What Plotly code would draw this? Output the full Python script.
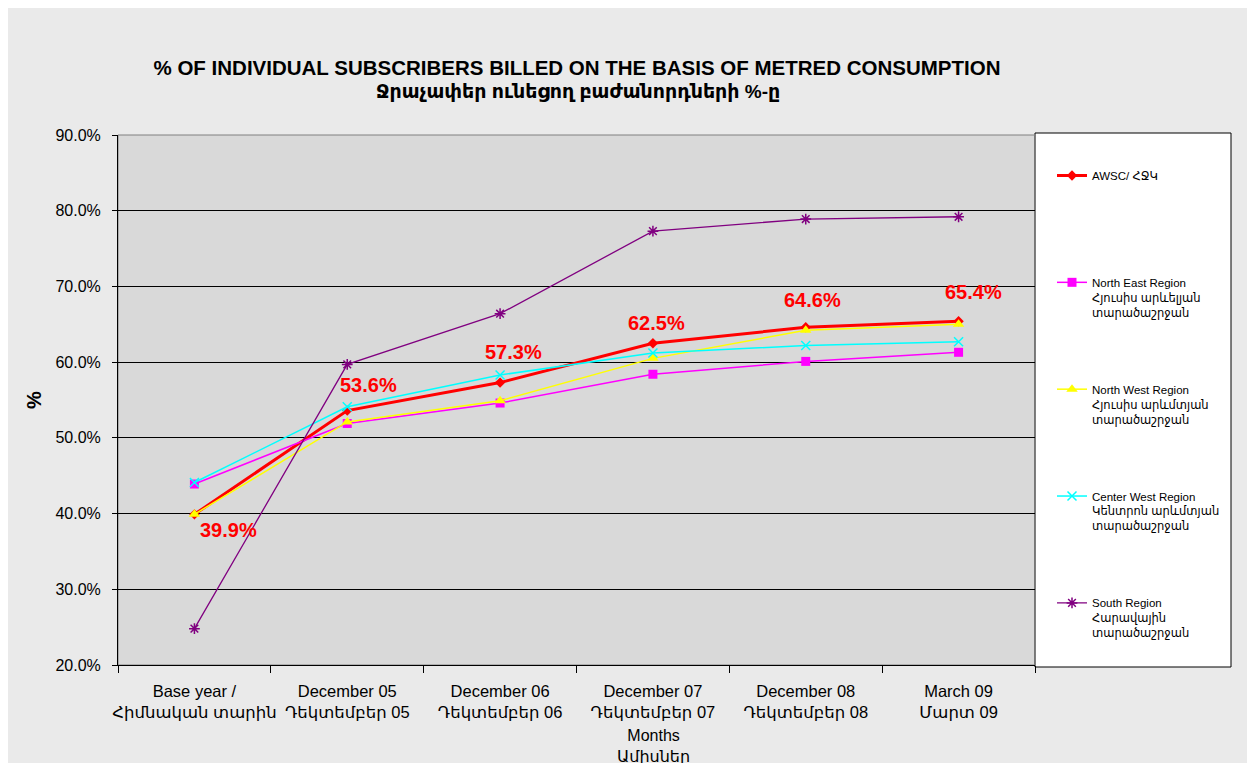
import plotly.graph_objects as go

categories = [
    "Base year /<br>Հիմնական տարին",
    "December 05<br>Դեկտեմբեր 05",
    "December 06<br>Դեկտեմբեր 06",
    "December 07<br>Դեկտեմբեր 07",
    "December 08<br>Դեկտեմբեր 08",
    "March 09<br>Մարտ 09",
]
awsc = [39.9, 53.6, 57.3, 62.5, 64.6, 65.4]
north_east = [43.9, 51.9, 54.6, 58.4, 60.1, 61.3]
north_west = [39.9, 52.1, 54.9, 60.5, 64.2, 65.0]
center_west = [44.1, 54.1, 58.3, 61.2, 62.2, 62.7]
south = [24.8, 59.7, 66.4, 77.3, 78.9, 79.2]

series_names = [
    "AWSC/ ՀՋԿ<br> <br> ",
    "North East Region<br>Հյուսիս արևելյան<br>տարածաշրջան",
    "North West Region<br>Հյուսիս արևմտյան<br>տարածաշրջան",
    "Center West Region<br>Կենտրոն արևմտյան<br>տարածաշրջան",
    "South Region<br>Հարավային<br>տարածաշրջան",
]

# label offsets (px) for AWSC value labels
label_dx = [34, 21, 13, 4, 7, 15]
label_dy = [-16, 26, 31, 20, 27, 29]

FONT = "Arial, Liberation Sans, DejaVu Sans"
W, H = 1255, 763
OFF = 8  # page body margin
# plot area in page pixels
L, R, T, B = 118, 1035, 135, 665
pw, ph = R - L, B - T


def px_x(p):
    return (p - L) / pw


def px_y(p):
    return (B - p) / ph


fig = go.Figure()

styles = [
    dict(color="#ff0000", width=3, symbol="diamond", size=8),
    dict(color="#ff00ff", width=1.5, symbol="square", size=9),
    dict(color="#ffff00", width=1.5, symbol="triangle-up", size=10),
    dict(color="#00ffff", width=1.5, symbol="x-thin-open", size=9),
    dict(color="#800080", width=1.3, symbol="asterisk-open", size=9),
]
data = [awsc, north_east, north_west, center_west, south]

for i, (name, vals, st) in enumerate(zip(series_names, data, styles)):
    marker = dict(symbol=st["symbol"], size=st["size"], color=st["color"])
    if "open" in st["symbol"]:
        marker["line"] = dict(color=st["color"], width=1.5)
    fig.add_trace(go.Scatter(
        x=categories, y=vals, name=name, mode="lines+markers",
        line=dict(color=st["color"], width=st["width"]),
        marker=marker, legendgroup=f"g{i}",
    ))

for i, v in enumerate(awsc):
    fig.add_annotation(
        x=categories[i], y=v, text=f"<b>{v:.1f}%</b>", showarrow=False,
        xanchor="center", yanchor="middle",
        xshift=label_dx[i], yshift=label_dy[i],
        font=dict(family=FONT, size=20, color="#ff0000"),
    )

# subtitle (second title line)
fig.add_annotation(
    xref="paper", yref="paper", x=px_x(578), y=px_y(91),
    xanchor="center", yanchor="middle",
    text="<b>Ջրաչափեր ունեցող բաժանորդների %-ը</b>", showarrow=False,
    font=dict(family=FONT, size=19, color="#000"),
)
# x axis title
fig.add_annotation(
    xref="paper", yref="paper", x=px_x(653), y=px_y(746),
    xanchor="center", yanchor="middle",
    text="Months<br>Ամիսներ", showarrow=False,
    font=dict(family=FONT, size=16, color="#000"),
)
# y axis title
fig.add_annotation(
    xref="paper", yref="paper", x=px_x(34), y=px_y(400),
    xanchor="center", yanchor="middle",
    text="<b>%</b>", showarrow=False, textangle=-90,
    font=dict(family=FONT, size=20, color="#000"),
)

shapes = [
    # legend box
    dict(type="rect", xref="paper", yref="paper", x0=px_x(1035), x1=px_x(1231), y0=px_y(667), y1=px_y(133),
         fillcolor="white", line=dict(color="black", width=1), layer="below"),
    # plot area border
    dict(type="rect", xref="paper", yref="paper", x0=0, x1=1, y0=0, y1=1,
         line=dict(color="#808080", width=1), layer="below"),
]

fig.update_layout(
    width=W, height=H, autosize=False,
    margin=dict(l=L - OFF, r=W - (R - OFF), t=T - OFF, b=H - (B - OFF)),
    paper_bgcolor="#eaeaea",
    plot_bgcolor="#d9d9d9",
    font=dict(family=FONT, color="#000"),
    title=dict(
        text="<b>% OF INDIVIDUAL SUBSCRIBERS BILLED ON THE BASIS OF METRED CONSUMPTION</b>",
        x=(577 - OFF) / W, xanchor="center", y=1 - (68 - OFF) / H, yanchor="middle",
        font=dict(size=20.5, color="#000"),
    ),
    showlegend=True,
    legend=dict(
        x=px_x(1052), xanchor="left", y=px_y(161.5), yanchor="top",
        bgcolor="rgba(0,0,0,0)", borderwidth=0,
        font=dict(size=11.5, color="#000"),
        tracegroupgap=59, valign="top", traceorder="grouped",
    ),
    shapes=shapes,
    xaxis=dict(
        type="category", range=[-0.5, 5.5], showgrid=False,
        showline=True, linecolor="black", linewidth=1,
        ticks="outside", tickson="boundaries", ticklen=7, tickcolor="black",
        tickfont=dict(size=16.5), tickangle=0, zeroline=False,
        ticklabelstandoff=11,
    ),
    yaxis=dict(
        range=[20, 90], dtick=10, tick0=20, tickformat=".1f", ticksuffix="%",
        showgrid=True, gridcolor="#000000", gridwidth=1,
        showline=True, linecolor="black", linewidth=1,
        ticks="outside", ticklen=5, tickcolor="black",
        tickfont=dict(size=16), zeroline=False,
        ticklabelstandoff=8,
    ),
)

fig.write_html("out.html")
